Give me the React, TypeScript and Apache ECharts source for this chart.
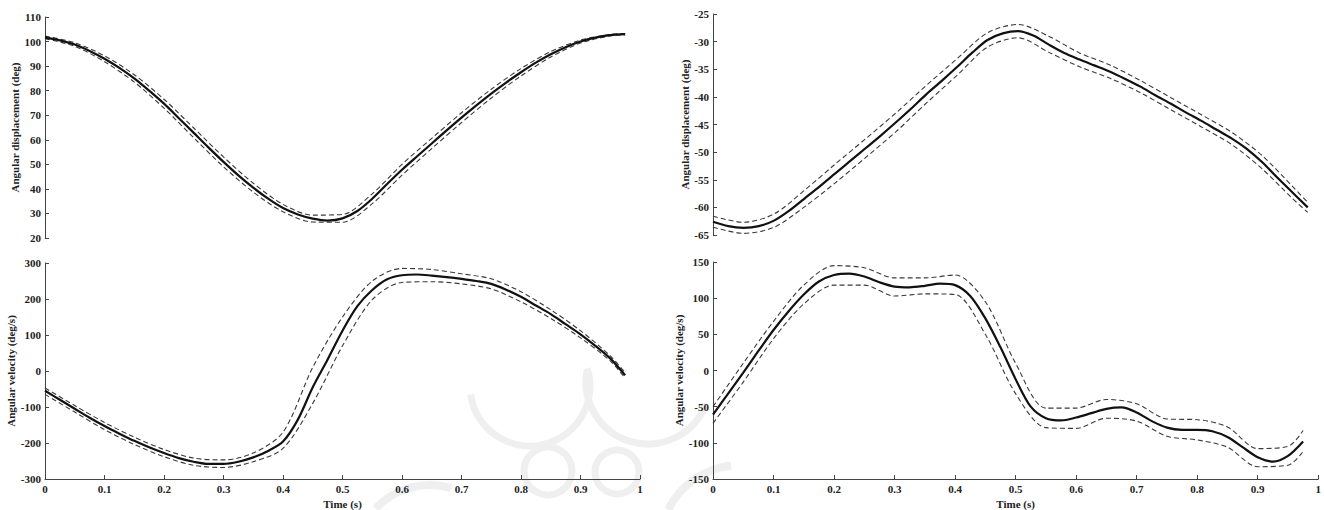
import React, { useEffect, useRef } from "react";
import * as echarts from "echarts";

// time points (s)
const T_MEAN = [0, 0.025, 0.05, 0.075, 0.1, 0.125, 0.15, 0.175, 0.2, 0.225, 0.25, 0.275, 0.3, 0.325, 0.35, 0.375, 0.4, 0.425, 0.45, 0.475, 0.5, 0.525, 0.55, 0.575, 0.6, 0.625, 0.65, 0.675, 0.7, 0.725, 0.75, 0.775, 0.8, 0.825, 0.85, 0.875, 0.9, 0.925, 0.95, 0.975];
const T_BAND = [0, 0.05, 0.1, 0.15, 0.2, 0.25, 0.3, 0.35, 0.4, 0.45, 0.5, 0.55, 0.6, 0.65, 0.7, 0.75, 0.8, 0.85, 0.9, 0.95, 0.975];

// Top-left: angular displacement (deg)
const dispLeftMean = [101.7, 100.5, 98.8, 96.2, 93, 89.3, 85, 80, 74.7, 68.8, 62.8, 56.8, 51, 45.5, 40.5, 36, 32.2, 29.6, 27.9, 27.1, 28.0, 31.0, 36.0, 42.0, 47.8, 53.2, 58.5, 63.8, 69, 74, 78.8, 83.3, 87.5, 91.4, 94.8, 97.7, 100, 101.6, 102.6, 103];
const dispLeftUpper = [102.2, 99.5, 94.2, 86.5, 76.5, 64.8, 53, 42.3, 33.7, 29.3, 29.6, 38.0, 50.0, 60.6, 71, 80.6, 89, 95.9, 100.6, 102.9, 103.3];
const dispLeftLower = [101.2, 98.1, 91.8, 83.5, 72.9, 60.8, 49, 38.7, 30.7, 26.5, 26.4, 34.0, 45.6, 56.4, 67, 77, 86, 93.7, 99.4, 102.3, 102.7];

// Top-right: angular displacement (deg)
const dispRightMean = [-62.6, -63.4, -63.7, -63.4, -62.4, -60.6, -58.4, -56.2, -53.9, -51.6, -49.3, -47, -44.6, -42.1, -39.5, -37.1, -34.6, -32, -29.7, -28.5, -28.1, -28.9, -30.5, -32, -33.2, -34.3, -35.4, -36.7, -38.1, -39.7, -41.2, -42.8, -44.3, -45.9, -47.5, -49.4, -51.8, -54.6, -57.3, -60];
const dispRightUpper = [-61.6, -62.7, -61.2, -56.9, -52.2, -47.6, -42.9, -37.9, -33.1, -28.4, -26.9, -29.0, -32.0, -34.2, -37, -40.1, -43.2, -46.4, -50.6, -56.2, -59.1];
const dispRightLower = [-63.6, -64.7, -63.6, -59.9, -55.6, -51, -46.3, -41.1, -36.1, -31.0, -29.3, -31.9, -34.5, -36.6, -39.2, -42.3, -45.4, -48.6, -53, -58.4, -60.9];

// Bottom-left: angular velocity (deg/s)
const velLeftMean = [-55, -80, -105, -130, -153, -174, -194, -212, -228, -242, -252, -258, -258, -252, -240, -222, -196, -135, -45, 32, 112, 180, 225, 255, 266, 268, 265, 261, 256, 250, 242, 226, 206, 182, 158, 130, 102, 70, 35, -12];
const velLeftUpper = [-47, -96, -143, -184, -218, -242, -247, -228, -170, 10, 150, 250, 285, 282, 270, 256, 220, 170, 112, 42, -5];
const velLeftLower = [-65, -114, -163, -204, -238, -262, -268, -252, -215, -90, 70, 198, 246, 248, 242, 228, 192, 146, 92, 28, -20];

// Bottom-right: angular velocity (deg/s)
const velRightMean = [-61, -32, -3, 27, 56, 82, 105, 123, 132, 134, 130, 122, 116, 115, 117, 120, 118, 103, 72, 32, -12, -50, -66, -69, -65, -59, -53, -51, -58, -70, -79, -82, -82, -84, -92, -106, -120, -126, -118, -98];
const velRightUpper = [-50, 10, 68, 118, 145, 142, 128, 128, 132, 95, 10, -52, -52, -40, -46, -67, -68, -78, -108, -105, -83];
const velRightLower = [-73, -16, 44, 92, 118, 118, 103, 106, 105, 50, -32, -79, -80, -66, -70, -91, -96, -106, -133, -131, -112];

const FONT = "'Liberation Serif', 'Times New Roman', serif";
const TEXT = { fontFamily: FONT, fontWeight: "bold" as const, fontSize: 11, color: "#222" };

function pairs(t: number[], v: number[]) {
  return t.map((x, i) => [x, v[i]]);
}

function yAxis(gridIndex: number, min: number, max: number, interval: number, name: string, nameGap: number) {
  return {
    type: "value", gridIndex, min, max, interval, name,
    nameLocation: "middle", nameGap,
    nameTextStyle: { ...TEXT },
    axisLine: { show: true, onZero: false, lineStyle: { color: "#444", width: 1 } },
    axisTick: { show: true, inside: true, length: 4, lineStyle: { color: "#444" } },
    axisLabel: { ...TEXT, margin: 4 },
    splitLine: { show: false },
  };
}

function xAxis(gridIndex: number, bottom: boolean) {
  if (!bottom) return { type: "value", gridIndex, min: 0, max: 1, show: false };
  return {
    type: "value", gridIndex, min: 0, max: 1, interval: 0.1,
    name: "Time (s)", nameLocation: "middle", nameGap: 19,
    nameTextStyle: { ...TEXT },
    axisLine: { show: true, onZero: false, lineStyle: { color: "#444", width: 1 } },
    axisTick: { show: true, inside: true, length: 4, lineStyle: { color: "#444" } },
    axisLabel: { ...TEXT, margin: 4 },
    splitLine: { show: false },
  };
}

function line(idx: number, t: number[], v: number[], dashed: boolean) {
  return {
    type: "line", xAxisIndex: idx, yAxisIndex: idx,
    data: pairs(t, v), showSymbol: false, symbol: "none", smooth: 0.3, silent: true,
    z: dashed ? 3 : 4,
    lineStyle: dashed ? { color: "#3a3a3a", width: 1.1, type: [5, 3] } : { color: "#111", width: 2.2 },
  };
}

const WM = "#efefef";
function arc(cx: number, cy: number, r: number, s: number, e: number, w = 7) {
  return { type: "arc", z: -10, silent: true, shape: { cx, cy, r, startAngle: s, endAngle: e }, style: { stroke: WM, lineWidth: w, fill: null } };
}
function circ(cx: number, cy: number, r: number, w = 7) {
  return { type: "circle", z: -10, silent: true, shape: { cx, cy, r }, style: { stroke: WM, lineWidth: w, fill: null } };
}

export default function App() {
  const ref = useRef<HTMLDivElement>(null);
  useEffect(() => {
    if (!ref.current) return;
    const chart = echarts.init(ref.current, null, { renderer: "svg" });
    chart.setOption({
      animation: false,
      backgroundColor: "#fff",
      graphic: [
        arc(530, 386, 60, -0.3, 3.0),
        arc(648, 382, 62, 0.35, 3.35),
        circ(548, 471, 24),
        circ(617, 472, 22),
        arc(430, 560, 75, 3.9, 5.0, 8),
        arc(740, 545, 80, 3.6, 4.6, 8),
      ],
      grid: [
        { left: 45, top: 17, width: 595, height: 221 },
        { left: 713, top: 14, width: 610, height: 221 },
        { left: 45, top: 263, width: 595, height: 222 },
        { left: 713, top: 262, width: 610, height: 223 },
      ],
      xAxis: [xAxis(0, false), xAxis(1, false), xAxis(2, true), xAxis(3, true)],
      yAxis: [
        yAxis(0, 20, 110, 10, "Angular displacement (deg)", 20),
        yAxis(1, -65, -25, 5, "Angular displacement (deg)", 20),
        yAxis(2, -300, 300, 100, "Angular velocity (deg/s)", 24),
        yAxis(3, -150, 150, 50, "Angular velocity (deg/s)", 23),
      ],
      series: [
        line(0, T_BAND, dispLeftUpper, true),
        line(0, T_MEAN, dispLeftMean, false),
        line(0, T_BAND, dispLeftLower, true),
        line(1, T_BAND, dispRightUpper, true),
        line(1, T_MEAN, dispRightMean, false),
        line(1, T_BAND, dispRightLower, true),
        line(2, T_BAND, velLeftUpper, true),
        line(2, T_MEAN, velLeftMean, false),
        line(2, T_BAND, velLeftLower, true),
        line(3, T_BAND, velRightUpper, true),
        line(3, T_MEAN, velRightMean, false),
        line(3, T_BAND, velRightLower, true),
      ],
    });
    return () => chart.dispose();
  }, []);
  return <div ref={ref} style={{ position: "fixed", left: 0, top: 0, width: 1324, height: 510, background: "#fff" }} />;
}
